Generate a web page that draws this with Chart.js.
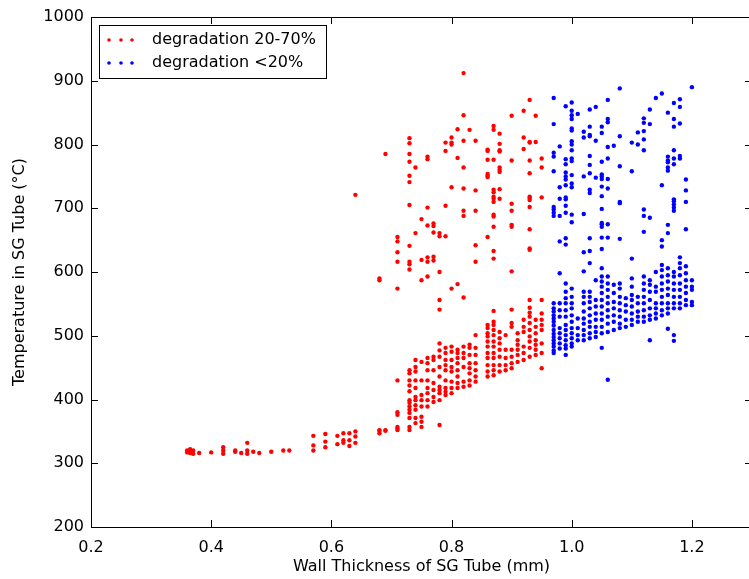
<!DOCTYPE html>
<html>
<head>
<meta charset="utf-8">
<script src="https://cdn.jsdelivr.net/npm/chart.js@4/dist/chart.umd.min.js"></script>
<style>
html, body { margin: 0; padding: 0; background: #fff; overflow: hidden; }
canvas { display: block; }
</style>
</head>
<body>
<canvas id="chart" width="760" height="579"></canvas>
<script>
const xTicks = [0.2, 0.4, 0.6, 0.8, 1.0, 1.2];
const yTicks = [200, 300, 400, 500, 600, 700, 800, 900, 1000];
const seriesLabels = ['degradation 20-70%', 'degradation <20%'];

// red series: thickness columns and the temperatures found at each one
const redX = [0.36, 0.365, 0.37, 0.38, 0.40, 0.42, 0.44, 0.45, 0.46, 0.47, 0.48, 0.50, 0.52, 0.53,
  0.57, 0.59, 0.61, 0.62, 0.63, 0.64, 0.68, 0.69, 0.71, 0.73, 0.74, 0.75, 0.76, 0.77, 0.78, 0.79,
  0.80, 0.81, 0.82, 0.83, 0.84, 0.86, 0.87, 0.88, 0.89, 0.90, 0.91, 0.92, 0.93, 0.94, 0.95];
const redY = [
  [317, 320], [316, 318, 322], [315, 320], [316], [317], [315, 320, 325], [318, 320], [316],
  [315, 320, 332], [318], [316], [318], [320], [320],
  [320, 328, 343], [325, 334, 346], [330, 343], [332, 336, 347], [327, 336, 347], [332, 342, 350, 721],
  [347, 351, 352, 587, 590], [351, 352, 785],
  [352, 354, 357, 376, 380, 430, 574, 616, 631, 648, 655],
  [352, 357, 371, 379, 384, 389, 395, 399, 413, 422, 430, 441, 446, 604, 612, 616, 641, 705, 741, 751, 773, 785, 802, 810],
  [363, 371, 384, 391, 399, 404, 418, 430, 444, 451, 462, 661, 764],
  [357, 365, 373, 389, 399, 407, 430, 459, 587, 619, 683],
  [389, 399, 410, 418, 430, 446, 457, 465, 593, 616, 623, 673, 701, 777, 781],
  [396, 404, 415, 426, 446, 462, 467, 618, 624, 662, 672, 676],
  [360, 399, 410, 415, 420, 436, 451, 467, 477, 488, 541, 556, 600, 656, 661],
  [407, 412, 418, 430, 446, 454, 462, 473, 481, 656, 704, 790, 803],
  [410, 418, 428, 444, 451, 462, 475, 483, 574, 733, 800, 803, 811],
  [418, 426, 436, 446, 457, 465, 473, 478, 581, 779, 824],
  [420, 428, 451, 465, 473, 483, 560, 688, 696, 731, 764, 806, 846, 912],
  [422, 430, 441, 449, 457, 470, 481, 486, 823],
  [428, 436, 446, 457, 470, 481, 501, 616, 642, 696, 728, 806],
  [436, 444, 454, 465, 473, 483, 491, 499, 504, 512, 517, 655, 749, 751, 754, 776, 790, 792],
  [438, 446, 454, 465, 473, 483, 491, 501, 509, 517, 522, 539, 621, 633, 671, 687, 690, 710, 715, 718, 725, 729, 776, 823, 829],
  [444, 454, 467, 478, 488, 496, 506, 715, 730, 757, 760, 764, 789, 791, 801, 817],
  [446, 454, 465, 478, 501],
  [449, 457, 467, 478, 514, 520, 541, 601, 671, 674, 696, 707, 775, 845],
  [459, 470, 478, 486, 493, 504],
  [462, 473, 483, 506, 514, 525, 793, 811, 853],
  [467, 481, 491, 499, 509, 520, 530, 536, 544, 556, 635, 637, 667, 702, 713, 716, 718, 755, 775, 803, 804, 870],
  [470, 478, 486, 493, 504, 514, 525, 804, 845],
  [449, 473, 488, 509, 517, 525, 535, 556, 717, 764, 778]
];

// blue series
const blueX = [0.97, 0.98, 0.99, 1.00, 1.01, 1.02, 1.03, 1.04, 1.05, 1.06, 1.07, 1.08, 1.09, 1.10,
  1.11, 1.12, 1.13, 1.14, 1.15, 1.16, 1.17, 1.18, 1.19, 1.20];
const blueY = [
  [473, 477, 483, 488, 493, 498, 503, 509, 516, 522, 527, 532, 538, 543, 551, 688, 693, 698, 702, 758, 781, 787, 832, 873],
  [480, 488, 496, 504, 512, 530, 540, 551, 598, 648, 688, 715, 733, 797],
  [470, 480, 485, 493, 501, 509, 517, 530, 540, 551, 559, 569, 582, 643, 653, 693, 704, 714, 717, 736, 745, 750, 756, 769, 777, 860],
  [483, 488, 496, 504, 512, 522, 532, 543, 551, 561, 574, 678, 690, 733, 739, 752, 774, 778, 791, 800, 805, 822, 825, 840, 846, 853, 866],
  [493, 501, 512, 527, 848],
  [493, 501, 509, 519, 527, 538, 551, 561, 569, 601, 631, 691, 750, 811, 820],
  [496, 504, 514, 522, 532, 543, 553, 561, 569, 614, 633, 653, 724, 729, 755, 768, 782, 813, 815, 828, 855],
  [498, 506, 514, 525, 535, 546, 556, 587, 748, 806, 859],
  [481, 504, 514, 525, 535, 546, 556, 567, 577, 585, 593, 606, 636, 654, 671, 675, 677, 699, 719, 734, 746, 750, 753, 773, 818, 828],
  [431, 506, 519, 530, 540, 551, 561, 572, 582, 593, 654, 675, 731, 746, 778, 796, 835, 840, 870],
  [509, 522, 532, 543, 553, 567, 580, 798],
  [512, 519, 530, 540, 551, 561, 574, 582, 652, 708, 710, 766, 813, 888],
  [514, 525, 538, 548, 559],
  [517, 525, 535, 546, 556, 564, 577, 590, 621, 758, 803],
  [522, 530, 538, 551, 561, 800, 819],
  [522, 530, 540, 551, 561, 572, 582, 593, 663, 688, 698, 791, 808, 821, 834, 841],
  [493, 525, 532, 543, 556, 569, 580, 587, 685, 832, 855],
  [527, 535, 543, 551, 569, 577, 600, 873],
  [532, 540, 551, 561, 572, 582, 593, 603, 611, 640, 650, 736, 880],
  [511, 535, 543, 551, 564, 574, 585, 595, 606, 661, 674, 759, 764, 772, 775, 781, 850],
  [492, 501, 543, 551, 561, 572, 582, 593, 600, 696, 701, 706, 711, 714, 769, 778, 791, 828, 840, 865],
  [543, 551, 561, 572, 582, 595, 606, 614, 623, 778, 782, 833, 859, 871],
  [548, 556, 567, 577, 587, 598, 609, 667, 710, 728, 745],
  [548, 553, 572, 577, 587, 890]
];

function toPoints(xs, ys) {
  const pts = [];
  xs.forEach((x, i) => ys[i].forEach(y => pts.push({ x: x, y: y })));
  return pts;
}

// frame with inward ticks on all four sides (classic matplotlib look)
const frameTicks = {
  id: 'frameTicks',
  afterDatasetsDraw(chart) {
    const { ctx, chartArea: a, scales } = chart;
    const len = 7;
    ctx.save();
    ctx.strokeStyle = '#000';
    ctx.lineWidth = 1;
    ctx.beginPath();
    scales.x.ticks.forEach(t => {
      const px = Math.round(scales.x.getPixelForValue(t.value)) + 0.5;
      ctx.moveTo(px, a.bottom); ctx.lineTo(px, a.bottom - len);
      ctx.moveTo(px, a.top); ctx.lineTo(px, a.top + len);
    });
    scales.y.ticks.forEach(t => {
      const py = Math.round(scales.y.getPixelForValue(t.value)) + 0.5;
      ctx.moveTo(a.left, py); ctx.lineTo(a.left + len, py);
      ctx.moveTo(a.right, py); ctx.lineTo(a.right - len, py);
    });
    ctx.stroke();
    ctx.strokeRect(a.left + 0.5, a.top + 0.5, a.right - a.left, a.bottom - a.top);
    ctx.restore();
  }
};

// boxed legend with three dots per entry
const dotLegend = {
  id: 'dotLegend',
  afterDraw(chart) {
    const ctx = chart.ctx;
    const bx = 99, by = 25, bw = 227, bh = 53;
    ctx.save();
    ctx.fillStyle = '#fff';
    ctx.fillRect(bx, by, bw, bh);
    ctx.strokeStyle = '#000';
    ctx.lineWidth = 1;
    ctx.strokeRect(bx + 0.5, by + 0.5, bw, bh);
    ctx.font = '16px "DejaVu Sans"';
    ctx.textBaseline = 'middle';
    chart.data.datasets.forEach((ds, i) => {
      const cy = by + 15 + i * 23;
      ctx.fillStyle = ds.backgroundColor;
      [109, 121, 132].forEach(cx => {
        ctx.beginPath();
        ctx.arc(cx, cy, 1.8, 0, Math.PI * 2);
        ctx.fill();
      });
      ctx.fillStyle = '#000';
      ctx.fillText(ds.label, 152, cy);
    });
    ctx.restore();
  }
};

Chart.defaults.font.family = '"DejaVu Sans"';
Chart.defaults.font.size = 16;
Chart.defaults.color = '#000';

new Chart(document.getElementById('chart').getContext('2d'), {
  type: 'scatter',
  data: {
    datasets: [
      { label: seriesLabels[0], data: toPoints(redX, redY), backgroundColor: '#ff0000', borderWidth: 0, pointRadius: 2.2 },
      { label: seriesLabels[1], data: toPoints(blueX, blueY), backgroundColor: '#0000ff', borderWidth: 0, pointRadius: 2.2 }
    ]
  },
  options: {
    responsive: false,
    animation: false,
    devicePixelRatio: 1,
    layout: { padding: { left: 0, right: 8, top: 17, bottom: 0 } },
    plugins: { legend: { display: false }, tooltip: { enabled: false } },
    scales: {
      x: {
        type: 'linear', min: 0.2, max: 1.3,
        afterBuildTicks: s => { s.ticks = xTicks.map(v => ({ value: v })); },
        afterFit: s => { s.height = 52; },
        grid: { display: false, drawTicks: false },
        border: { display: false },
        ticks: { padding: 11, autoSkip: false, maxRotation: 0, callback: v => v.toFixed(1) },
        title: { display: true, text: 'Wall Thickness of SG Tube (mm)', padding: { top: 0, bottom: 3 } }
      },
      y: {
        type: 'linear', min: 200, max: 1000,
        afterBuildTicks: s => { s.ticks = yTicks.map(v => ({ value: v })); },
        afterFit: s => { s.width = 91; },
        grid: { display: false, drawTicks: false },
        border: { display: false },
        ticks: { padding: 7, autoSkip: false, callback: v => String(v) },
        title: { display: true, text: 'Temperature in SG Tube (°C)', padding: { top: 10, bottom: 0 } }
      }
    }
  },
  plugins: [frameTicks, dotLegend]
});
</script>
</body>
</html>
